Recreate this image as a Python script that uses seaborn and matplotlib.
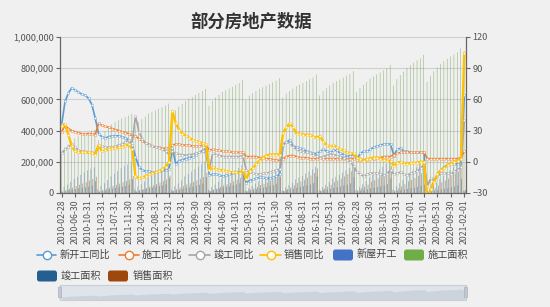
import calendar
import numpy as np
import pandas as pd
import matplotlib
matplotlib.use("Agg")
import matplotlib.pyplot as plt
import seaborn as sns
from matplotlib.patches import FancyBboxPatch, Rectangle
from matplotlib.lines import Line2D

sns.set_style("ticks")
plt.rcParams["font.family"] = ["Noto Sans CJK SC", "DejaVu Sans"]

# ---------------- categories ----------------
special = {(2019, 7): "2019-07-01", (2019, 11): "2019-11-01"}
categories = []
for yy in range(2010, 2021):
    for mm in range(2, 13):
        if yy == 2019 and mm == 12:
            continue
        d = calendar.monthrange(yy, mm)[1]
        categories.append(special.get((yy, mm), f"{yy}-{mm:02d}-{d:02d}"))
categories.append("2021-02-01")
n = len(categories)

tick_labels = ["2010-02-28", "2010-06-30", "2010-10-31", "2011-03-31", "2011-07-31",
               "2011-11-30", "2012-04-30", "2012-08-31", "2012-12-31", "2013-05-31",
               "2013-09-30", "2014-02-28", "2014-06-30", "2014-10-31", "2015-03-31",
               "2015-07-31", "2015-11-30", "2016-04-30", "2016-08-31", "2016-12-31",
               "2017-05-31", "2017-09-30", "2018-02-28", "2018-06-30", "2018-10-31",
               "2019-03-31", "2019-07-01", "2019-11-01", "2020-05-31", "2020-09-30",
               "2021-02-01"]

# ---------------- line series (YoY %, right axis) ----------------
xkg_yoy = ([36, 58, 66, 71, 69, 67, 65, 64, 61, 55, 42] +
           [27, 24, 23, 24, 25, 25, 25, 24, 23, 21, 16] +
           [5, -5, -8, -9, -9, -10, -10, -9, -8, -8, -7] +
           [13, -2, 1, 2, 3, 4, 5, 7, 9, 11, 13] +
           [-13, -12, -12, -13, -14, -13, -12, -11, -10, -10, -11] +
           [-20, -18, -17, -16, -15, -15, -16, -16, -15, -14, -12] +
           [17, 19, 21, 15, 14, 13, 12, 10, 9, 8, 8] +
           [10, 12, 10, 9, 11, 11, 8, 7, 5, 6, 7] +
           [3, 8, 10, 10, 12, 14, 15, 16, 17, 17, 17] +
           [6, 12, 13, 10, 10, 9, 9, 9, 9, 9] +
           [-45, -27, -18, -12, -8, -5, -3, -2, -2, -2, -1] +
           [64])
sg_yoy = ([29, 35, 32, 30, 29, 28, 27, 27, 27, 27, 26] +
          [37, 35, 34, 33, 32, 31, 30, 29, 28, 27, 25] +
          [25, 22, 20, 18, 17, 15, 14, 14, 13, 13, 13] +
          [16, 17, 17, 16, 16, 16, 15, 15, 15, 16, 16] +
          [11, 12, 11, 11, 10, 10, 10, 9, 9, 9, 9] +
          [5, 5, 5, 5, 4, 4, 3, 3, 2, 2, 1] +
          [3, 5, 6, 6, 5, 4, 4, 4, 3, 3, 3] +
          [4, 3, 3, 3, 3, 3, 3, 3, 3, 3, 3] +
          [2, 2, 2, 2, 3, 3, 4, 4, 5, 5, 5] +
          [7, 8, 9, 9, 9, 9, 9, 9, 9, 9] +
          [3, 3, 3, 3, 3, 3, 3, 3, 3, 3, 4] +
          [10])
jg_yoy = ([8, 12, 14, 17, 14, 11, 10, 10, 9, 9, 8] +
          [16, 15, 14, 14, 14, 15, 16, 17, 19, 21, 18] +
          [44, 29, 22, 18, 16, 15, 14, 13, 12, 10, 7] +
          [10, 8, 7, 7, 6, 7, 7, 8, 9, 10, 8] +
          [-7, 8, 7, 6, 5, 5, 5, 5, 5, 5, 6] +
          [-8, -10, -11, -12, -12, -11, -11, -10, -9, -8, -7] +
          [16, 19, 18, 14, 12, 10, 9, 9, 8, 7, 6] +
          [4, 5, 6, 7, 7, 6, 5, 4, 2, 0, -4] +
          [-10, -12, -14, -12, -11, -11, -11, -12, -13, -12, -8] +
          [-12, -11, -10, -12, -13, -11, -10, -9, -6, -3] +
          [-23, -16, -18, -14, -11, -11, -11, -12, -9, -8, -5] +
          [40])
xs_yoy = ([34, 36, 26, 15, 10, 9, 9, 9, 9, 8, 7] +
          [16, 10, 11, 12, 13, 13, 14, 14, 15, 17, 12] +
          [-14, -16, -15, -14, -12, -11, -10, -9, -7, -5, 0] +
          [49, 37, 31, 27, 25, 23, 21, 20, 19, 18, 17] +
          [-8, -5, -7, -8, -8, -9, -10, -10, -10, -11, -8] +
          [-17, -9, -6, -2, 1, 4, 6, 7, 7, 7, 7] +
          [28, 33, 37, 33, 27, 27, 26, 26, 26, 24, 23] +
          [25, 19, 16, 14, 16, 14, 12, 11, 9, 8, 8] +
          [4, 3, 1, 3, 3, 4, 4, 3, 2, 1, 1] +
          [-4, -1, 0, -2, -2, -1, -1, -1, 0, 0] +
          [-40, -26, -19, -12, -8, -6, -3, -2, 0, 1, 3] +
          [105])

# ---------------- bar series (cumulative area, in thousands, left axis) ----------------
xwkg_area = ([20, 39, 54, 71, 89, 103, 117, 131, 145, 156, 164] +
             [25, 45, 63, 83, 107, 124, 140, 158, 172, 183, 191] +
             [25, 40, 55, 74, 96, 111, 125, 140, 153, 165, 177] +
             [22, 44, 61, 81, 106, 121, 137, 153, 169, 184, 201] +
             [23, 40, 54, 72, 93, 106, 120, 133, 146, 160, 180] +
             [18, 31, 45, 60, 76, 87, 98, 112, 125, 138, 154] +
             [18, 37, 51, 68, 87, 99, 111, 124, 137, 152, 167] +
             [19, 38, 53, 70, 92, 104, 116, 131, 145, 160, 179] +
             [21, 39, 56, 76, 99, 115, 133, 151, 169, 188, 209] +
             [22, 45, 63, 83, 106, 124, 144, 164, 186, 205] +
             [10, 28, 47, 67, 91, 108, 127, 147, 167, 189, 224] +
             [17])
sg_area = ([265, 292, 313, 330, 350, 363, 373, 383, 392, 400, 405] +
           [338, 372, 396, 417, 440, 454, 466, 478, 487, 497, 507] +
           [426, 456, 474, 490, 510, 521, 530, 540, 551, 561, 573] +
           [493, 531, 553, 571, 590, 604, 616, 629, 641, 653, 666] +
           [558, 591, 612, 629, 647, 659, 669, 681, 693, 705, 726] +
           [597, 623, 640, 654, 668, 678, 688, 698, 709, 719, 736] +
           [611, 637, 654, 668, 685, 695, 705, 717, 729, 740, 759] +
           [626, 654, 672, 688, 705, 717, 728, 740, 752, 763, 781] +
           [646, 673, 693, 711, 733, 747, 760, 773, 786, 800, 822] +
           [690, 730, 756, 778, 803, 820, 835, 850, 863, 885] +
           [712, 752, 780, 804, 828, 845, 860, 875, 889, 902, 927] +
           [781])
jg_area = ([7.5, 12, 16, 20, 25, 29, 33, 37, 41, 46, 76] +
           [8.5, 13.5, 18, 22, 28, 32, 36, 41, 45, 52, 89] +
           [12, 16, 20, 25, 31, 35, 39, 44, 49, 56, 99] +
           [13, 17, 21, 26, 32, 37, 41, 47, 52, 60, 101] +
           [12, 18, 22, 28, 34, 39, 43, 49, 55, 63, 107] +
           [11, 16, 20, 25, 31, 35, 39, 45, 51, 59, 100] +
           [13, 19, 23, 28, 34, 38, 43, 49, 55, 63, 106] +
           [13, 18, 22, 27, 33, 37, 41, 47, 53, 62, 101] +
           [12, 16, 20, 24, 30, 34, 38, 43, 48, 56, 94] +
           [10, 14, 18, 22, 27, 31, 35, 40, 46, 54] +
           [8, 12, 15, 19, 24, 27, 31, 36, 42, 51, 91] +
           [11])
xs_area = ([10, 19, 27, 35, 45, 53, 61, 70, 80, 90, 104] +
           [10, 20, 27, 35, 45, 52, 60, 69, 77, 87, 110] +
           [9, 18, 25, 33, 42, 49, 57, 66, 76, 87, 111] +
           [13.5, 25, 34, 44, 55, 62, 71, 81, 91, 103, 131] +
           [12.5, 22, 30, 39, 49, 56, 64, 75, 86, 97, 121] +
           [10.5, 22, 30, 40, 51, 58, 67, 78, 89, 102, 128] +
           [13.5, 26, 37, 49, 64, 73, 84, 98, 112, 128, 157] +
           [17, 29, 40, 53, 70, 80, 91, 106, 121, 139, 169] +
           [17.5, 30, 41, 54, 72, 82, 93, 107, 123, 141, 172] +
           [17, 30, 41, 56, 75, 84, 96, 111, 126, 149] +
           [10, 22, 33, 48, 69, 80, 93, 110, 126, 146, 176] +
           [21])

line_names = ["新开工同比", "施工同比", "竣工同比", "销售同比"]
line_colors = ["#5B9BD5", "#ED7D31", "#A5A5A5", "#FFC000"]
line_data = [xkg_yoy, sg_yoy, jg_yoy, xs_yoy]
bar_names = ["新屋开工", "施工面积", "竣工面积", "销售面积"]
bar_colors = ["#4472C4", "#70AD47", "#255E91", "#9E480E"]
bar_data = [xwkg_area, sg_area, jg_area, xs_area]

# ---------------- figure ----------------
W, H = 550, 307
BG = "#f0f0f0"
fig = plt.figure(figsize=(W / 100, H / 100), dpi=100, facecolor=BG)
ax = fig.add_axes([60 / W, 1 - 193 / H, 406 / W, 156 / H])
ax.set_facecolor("none")

bar_df = pd.DataFrame({
    "idx": np.tile(np.arange(n), 4),
    "val": np.concatenate([np.asarray(v, float) * 1000 for v in bar_data]),
    "series": np.repeat(bar_names, n),
})
sns.barplot(data=bar_df, x="idx", y="val", hue="series", hue_order=bar_names,
            palette=bar_colors, width=0.8, gap=0.15, errorbar=None, alpha=0.72,
            linewidth=0, legend=False, ax=ax)
for p in ax.patches:
    p.set_snap(False)

ax.set_xlim(-0.5, n - 0.5)
ax.set_ylim(0, 1_000_000)
ax.set_yticks(np.arange(0, 1_000_001, 200_000))
ax.set_yticklabels([f"{v:,}" for v in range(0, 1_000_001, 200_000)])
ax.yaxis.grid(True, color="#cfcfcf", lw=0.8)
ax.xaxis.grid(False)
ax.set_axisbelow(True)
ax.set_xticks(np.arange(0, n, 4))
ax.set_xticklabels(tick_labels, rotation=90, fontsize=6.3, color="#555")
ax.set_xlabel("")
ax.set_ylabel("")
ax.tick_params(axis="y", length=3, color="#666", labelsize=6.6, labelcolor="#555", pad=1.5)
ax.tick_params(axis="x", length=3, color="#666", pad=1.5)
for s in ["top", "right"]:
    ax.spines[s].set_visible(False)
for s in ["left", "bottom"]:
    ax.spines[s].set_color("#666")
    ax.spines[s].set_linewidth(0.9)

ax2 = ax.twinx()
ax2.set_facecolor("none")
xs = np.arange(n)
for name, vals, c in zip(line_names, line_data, line_colors):
    lw = 1.7 if name == "销售同比" else 1.2
    sns.lineplot(x=xs, y=vals, color=c, lw=lw, marker="o", markersize=1.8,
                 markerfacecolor="white", markeredgecolor=c, markeredgewidth=0.3,
                 ax=ax2, legend=False)
ax2.set_ylim(-30, 120)
ax2.set_yticks(np.arange(-30, 121, 30))
ax2.set_xlim(-0.5, n - 0.5)
ax2.tick_params(axis="y", length=3, color="#666", labelsize=6.6, labelcolor="#555", pad=1.5)
ax2.grid(False)
for s in ["top", "left", "bottom"]:
    ax2.spines[s].set_visible(False)
ax2.spines["right"].set_color("#666")
ax2.spines["right"].set_linewidth(0.9)

# ---------------- overlay: title, legend, slider ----------------
ov = fig.add_axes([0, 0, 1, 1])
ov.set_xlim(0, W)
ov.set_ylim(H, 0)
ov.axis("off")
ov.patch.set_alpha(0)

ov.text(251, 22, "部分房地产数据", ha="center", va="center", fontsize=12.5,
        fontweight="bold", color="#333")

leg_fs = 7.3
line_items = [(37, 56, 60), (119, 139, 142), (189, 210, 214), (260, 281, 284)]
for (x0, x1, tx), name, c in zip(line_items, line_names, line_colors):
    ov.add_line(Line2D([x0, x1], [255, 255], color=c, lw=1.2))
    ov.plot([(x0 + x1) / 2], [255], marker="o", markersize=6, markerfacecolor="white",
            markeredgecolor=c, markeredgewidth=1.0)
    ov.text(tx, 255, name, ha="left", va="center", fontsize=leg_fs, color="#444")

rect_items = [(333, 255, 357), (404, 255, 428), (37, 276, 61), (108, 276, 133)]
for (x0, yc, tx), name, c in zip(rect_items, bar_names, bar_colors):
    ov.add_patch(FancyBboxPatch((x0, yc - 5.5), 20, 11,
                                boxstyle="round,pad=0,rounding_size=2.5",
                                facecolor=c, edgecolor="none"))
    ov.text(tx, yc, name, ha="left", va="center", fontsize=leg_fs, color="#444")

# dataZoom slider
ov.add_patch(Rectangle((60, 285), 406, 15, facecolor="#dfe3ea", edgecolor="#c8cdd6", lw=0.8))
shadow = np.asarray(sg_area, float)
sy = 297 - (shadow - shadow.min()) / (shadow.max() - shadow.min()) * 8
sx = 60 + (np.arange(n) + 0.5) * 406 / n
ov.fill_between(sx, sy, 299.5, color="#cdd3dc", lw=0)
for hx in (60, 466):
    ov.add_patch(FancyBboxPatch((hx - 1.5, 287), 3, 11,
                                boxstyle="round,pad=0,rounding_size=1",
                                facecolor="#c3c9d3", edgecolor="#aab1bc", lw=0.5))

fig.savefig("out.png", dpi=100, facecolor=BG)
